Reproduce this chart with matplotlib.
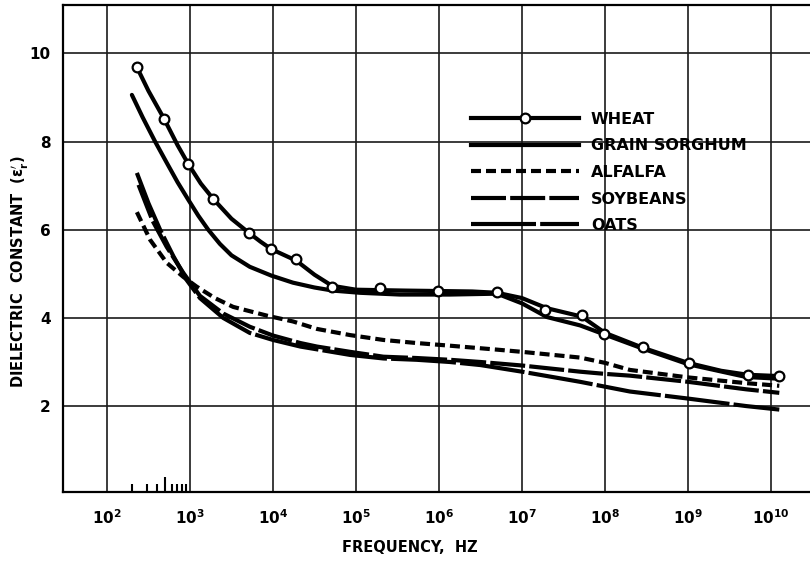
import numpy as np
import matplotlib
matplotlib.use("Agg")
import matplotlib.pyplot as plt
from matplotlib.ticker import FixedLocator, FixedFormatter, NullFormatter
from matplotlib.lines import Line2D

plt.rcParams['font.family'] = ['DejaVu Sans']
plt.rcParams['font.weight'] = 'bold'
plt.rcParams['mathtext.fontset'] = 'dejavusans'
plt.rcParams['mathtext.default'] = 'bf'

# ---------------- data (log10 frequency, dielectric constant) ----------------
wheat_mark_logf = [2.36, 2.69, 2.98, 3.28, 3.71, 3.98, 4.28, 4.71, 5.29, 5.99,
                   6.70, 7.28, 7.72, 7.99, 8.46, 9.01, 9.72, 10.10]
wheat_mark_val = [9.69, 8.51, 7.49, 6.70, 5.93, 5.56, 5.34, 4.71, 4.68, 4.61,
                  4.59, 4.18, 4.07, 3.64, 3.34, 2.98, 2.71, 2.69]

wheat_logf = [2.36, 2.50, 2.69, 2.85, 2.98, 3.13, 3.28, 3.50, 3.71, 3.85, 3.98,
              4.13, 4.28, 4.50, 4.71, 5.00, 5.29, 5.60, 6.00, 6.40, 6.70, 7.00,
              7.30, 7.72, 8.00, 8.46, 9.00, 9.40, 9.72, 10.10]
wheat_val = [9.69, 9.15, 8.51, 7.92, 7.49, 7.05, 6.70, 6.25, 5.93, 5.73, 5.56,
             5.43, 5.30, 4.98, 4.73, 4.64, 4.63, 4.62, 4.61, 4.60, 4.57, 4.45,
             4.22, 4.03, 3.66, 3.32, 2.98, 2.80, 2.71, 2.68]

sorghum_logf = [2.30, 2.43, 2.58, 2.72, 2.85, 2.98, 3.10, 3.22, 3.36, 3.50, 3.72,
                3.98, 4.24, 4.50, 4.72, 5.05, 5.53, 6.13, 6.70, 7.00, 7.30, 7.70,
                8.00, 8.46, 9.00, 9.70, 10.10]
sorghum_val = [9.06, 8.55, 8.00, 7.52, 7.08, 6.68, 6.32, 6.00, 5.68, 5.42, 5.16,
               4.96, 4.80, 4.69, 4.62, 4.57, 4.53, 4.53, 4.55, 4.33, 4.02, 3.83,
               3.62, 3.30, 2.95, 2.66, 2.62]

alfalfa_logf = [2.36, 2.52, 2.72, 2.92, 3.08, 3.30, 3.52, 3.93, 4.24, 4.53, 4.93,
                5.33, 5.73, 6.13, 6.70, 7.00, 7.70, 8.00, 8.30, 9.00, 9.70, 10.10]
alfalfa_val = [6.40, 5.77, 5.25, 4.93, 4.71, 4.45, 4.25, 4.05, 3.92, 3.75, 3.61,
               3.50, 3.43, 3.37, 3.28, 3.23, 3.10, 2.98, 2.82, 2.65, 2.52, 2.46]

soybeans_logf = [2.38, 2.55, 2.72, 2.92, 3.12, 3.40, 3.72, 4.00, 4.33, 4.53, 4.93,
                 5.33, 5.73, 6.13, 6.50, 7.00, 7.70, 8.00, 8.30, 9.00, 9.70, 10.10]
soybeans_val = [7.02, 6.20, 5.61, 5.02, 4.50, 4.10, 3.80, 3.60, 3.43, 3.35, 3.23,
                3.12, 3.09, 3.05, 3.00, 2.92, 2.78, 2.73, 2.69, 2.55, 2.38, 2.30]

oats_logf = [2.36, 2.50, 2.64, 2.80, 2.96, 3.12, 3.40, 3.72, 4.00, 4.33, 4.93,
             5.33, 5.73, 6.13, 6.50, 7.00, 7.70, 8.00, 8.30, 9.00, 9.70, 10.10]
oats_val = [7.29, 6.60, 6.00, 5.40, 4.86, 4.45, 4.00, 3.66, 3.50, 3.35, 3.16,
            3.08, 3.05, 3.00, 2.93, 2.78, 2.55, 2.44, 2.33, 2.17, 2.00, 1.92]

series_names = ["WHEAT", "GRAIN SORGHUM", "ALFALFA", "SOYBEANS", "OATS"]

xtick_exp = [2, 3, 4, 5, 6, 7, 8, 9, 10]
xtick_labels = [r"$10^{%d}$" % e for e in xtick_exp]
ytick_vals = [2, 4, 6, 8, 10]
ytick_labels = ["2", "4", "6", "8", "10"]
minor_ticks = [200, 300, 400, 500, 600, 700, 800, 900]

# ---------------- figure ----------------
fig = plt.figure(figsize=(8.1, 5.63), dpi=100)
ax = fig.add_axes([63 / 810, 1 - 492 / 563, 749 / 810, 487 / 563])
ax.set_xscale('log')
ax.set_xlim(10 ** 1.47, 10 ** 10.494)
ax.set_ylim(0.05, 11.1)

lw = 3.0
tof = lambda lf: np.power(10.0, lf)

ax.plot(tof(wheat_logf), wheat_val, color='black', lw=lw, solid_capstyle='round',
        solid_joinstyle='round', zorder=3)
ax.plot(tof(wheat_mark_logf), wheat_mark_val, linestyle='none', marker='o',
        markersize=7, markerfacecolor='white', markeredgecolor='black',
        markeredgewidth=1.6, zorder=5)
ax.plot(tof(sorghum_logf), sorghum_val, color='black', lw=lw, solid_capstyle='round',
        solid_joinstyle='round', zorder=3)
ax.plot(tof(alfalfa_logf), alfalfa_val, color='black', lw=lw, dashes=(2.4, 1.2), zorder=3)
ax.plot(tof(soybeans_logf), soybeans_val, color='black', lw=lw, dashes=(8.4, 1.0), zorder=3)
ax.plot(tof(oats_logf), oats_val, color='black', lw=lw, dashes=(15.6, 1.0), zorder=3)

# legend handles
handles = [
    Line2D([], [], color='black', lw=lw, marker='o', markersize=7,
           markerfacecolor='white', markeredgewidth=1.6),
    Line2D([], [], color='black', lw=lw),
    Line2D([], [], color='black', lw=lw, dashes=(2.4, 1.2)),
    Line2D([], [], color='black', lw=lw, dashes=(8.4, 1.0)),
    Line2D([], [], color='black', lw=lw, dashes=(15.6, 1.0)),
]
leg = ax.legend(handles, series_names, loc='upper left',
                bbox_to_anchor=((466 - 63) / 749, (492 - 112) / 487),
                frameon=False, borderaxespad=0, borderpad=0, fontsize=11.5,
                handlelength=7.4, handletextpad=0.42, labelspacing=0.72,
                numpoints=3)
for h in leg.legend_handles:
    try:
        h.set_markevery([1])
    except Exception:
        pass

# grid / ticks
ax.xaxis.set_major_locator(FixedLocator([10.0 ** e for e in xtick_exp]))
ax.xaxis.set_major_formatter(FixedFormatter(xtick_labels))
ax.xaxis.set_minor_locator(FixedLocator(minor_ticks))
ax.xaxis.set_minor_formatter(NullFormatter())
ax.yaxis.set_major_locator(FixedLocator(ytick_vals))
ax.yaxis.set_major_formatter(FixedFormatter(ytick_labels))
ax.grid(True, which='major', color='#1a1a1a', lw=1.2, zorder=1)
ax.tick_params(axis='both', which='major', length=0, labelsize=11)
ax.tick_params(axis='x', which='major', pad=12)
ax.tick_params(axis='y', which='major', pad=9)
ax.tick_params(axis='x', which='minor', direction='in', length=5.5, width=1.5,
               top=False, bottom=True)
for t, v in zip(ax.xaxis.get_minor_ticks(), minor_ticks):
    if v == 500:
        t.tick1line.set_markersize(11)

for s in ['left', 'top', 'bottom']:
    ax.spines[s].set_linewidth(1.6)
ax.spines['right'].set_visible(False)

ax.set_xlabel("FREQUENCY,  HZ", fontsize=10.5, fontweight='bold')
ax.xaxis.set_label_coords((410 - 63) / 749, (492 - 540) / 487)
ax.set_ylabel(r"DIELECTRIC  CONSTANT  $(\epsilon_r')$", fontsize=10.5, fontweight='bold')
ax.yaxis.set_label_coords((31 - 63) / 749, (492 - 272) / 487)

fig.savefig("out.png", dpi=100)
